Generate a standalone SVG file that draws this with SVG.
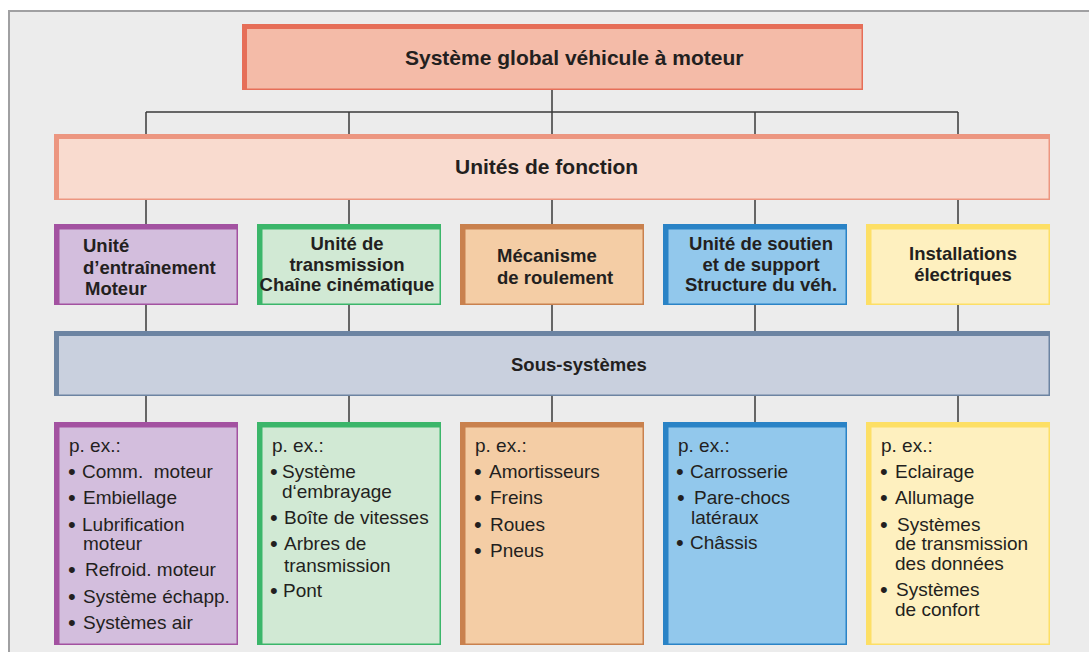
<svg xmlns="http://www.w3.org/2000/svg" width="1089" height="652" viewBox="0 0 1089 652">
<style>
.t{font-family:"Liberation Sans",Arial,sans-serif;fill:#231f20}
.h{font-weight:bold;font-size:21px}
.m{font-weight:bold;font-size:18.5px}
.s{font-size:19px}
.d{font-size:22px}
.c{text-anchor:middle}
.ln{stroke:#3a3a3a;stroke-width:1.5;fill:none}
.b0{fill:#e66e58}.f0{fill:#f4bba8}
.b1{fill:#ec9680}.f1{fill:#f9dbcf}
.b2{fill:#6c84a2}.f2{fill:#c9d0de}
.bp{fill:#a352a1}.fp{fill:#d3bedd}
.bg{fill:#3bb66a}.fg{fill:#d1e9d4}
.bo{fill:#c9814e}.fo{fill:#f4cda5}
.bb{fill:#2a83c6}.fb{fill:#92c8ec}
.by{fill:#fddf65}.fy{fill:#fef0bf}
</style>
<rect x="0" y="0" width="1089" height="652" fill="#ffffff"/>
<rect x="9" y="11" width="1090" height="660" fill="#ececec" stroke="#a0a0a2" stroke-width="2"/>

<g id="connectors">
<line class="ln" x1="552" y1="89" x2="552" y2="112"/>
<line class="ln" x1="146" y1="112" x2="958" y2="112"/>
<path class="ln" d="M146 112V134M349 112V134M552 112V134M755 112V134M958 112V134"/>
<path class="ln" d="M146 200V224M349 200V224M552 200V224M755 200V224M958 200V224"/>
<path class="ln" d="M146 305V331M349 305V331M552 305V331M755 305V331M958 305V331"/>
<path class="ln" d="M146 396V422M349 396V422M552 396V422M755 396V422M958 396V422"/>
</g>

<g id="global">
<rect class="b0" x="242" y="24" width="621" height="66"/>
<rect class="f0" x="247" y="29" width="614.5" height="59.5"/>
<text class="t h" x="405" y="65">Système global véhicule à moteur</text>
</g>

<g id="fonction">
<rect class="b1" x="54" y="134" width="996" height="66"/>
<rect class="f1" x="59" y="139" width="989.5" height="59.5"/>
<text class="t h" x="455" y="174">Unités de fonction</text>
</g>

<g id="u-entrainement">
<rect class="bp" x="54" y="224" width="184" height="81"/>
<rect class="fp" x="59.5" y="229.5" width="177" height="74"/>
<text class="t m" x="83" y="252">Unité</text>
<text class="t m" x="83" y="274">d’entraînement</text>
<text class="t m" x="85" y="295">Moteur</text>
</g>

<g id="u-transmission">
<rect class="bg" x="257" y="224" width="184" height="81"/>
<rect class="fg" x="262.5" y="229.5" width="177" height="74"/>
<text class="t m c" x="347" y="250">Unité de</text>
<text class="t m c" x="347" y="270.5">transmission</text>
<text class="t m c" x="347" y="291">Chaîne cinématique</text>
</g>

<g id="u-roulement">
<rect class="bo" x="460" y="224" width="184" height="81"/>
<rect class="fo" x="465.5" y="229.5" width="177" height="74"/>
<text class="t m" x="497" y="262">Mécanisme</text>
<text class="t m" x="497" y="284">de roulement</text>
</g>

<g id="u-soutien">
<rect class="bb" x="663" y="224" width="184" height="81"/>
<rect class="fb" x="668.5" y="229.5" width="177" height="74"/>
<text class="t m c" x="761" y="250">Unité de soutien</text>
<text class="t m c" x="761" y="270.5">et de support</text>
<text class="t m c" x="761" y="291">Structure du véh.</text>
</g>

<g id="u-electrique">
<rect class="by" x="866" y="224" width="184" height="81"/>
<rect class="fy" x="871.5" y="229.5" width="177" height="74"/>
<text class="t m c" x="963" y="260">Installations</text>
<text class="t m c" x="963" y="281">électriques</text>
</g>

<g id="sous-systemes">
<rect class="b2" x="54" y="331" width="996" height="65"/>
<rect class="f2" x="59" y="336" width="989.5" height="58.5"/>
<text class="t m" x="511" y="371">Sous-systèmes</text>
</g>

<g id="s-entrainement">
<rect class="bp" x="54" y="422" width="184" height="223"/>
<rect class="fp" x="59.5" y="427.5" width="177" height="216"/>
<text class="t s" x="69" y="452">p. ex.:</text>
<text class="t d" x="68" y="479">•</text><text class="t s" x="82" y="478" style="white-space:pre">Comm.  moteur</text>
<text class="t d" x="68" y="505">•</text><text class="t s" x="83" y="504">Embiellage</text>
<text class="t d" x="68" y="532">•</text><text class="t s" x="82" y="531">Lubrification</text>
<text class="t s" x="83" y="550">moteur</text>
<text class="t d" x="68" y="577">•</text><text class="t s" x="85" y="576">Refroid. moteur</text>
<text class="t d" x="68" y="604">•</text><text class="t s" x="83" y="603">Système échapp.</text>
<text class="t d" x="68" y="630">•</text><text class="t s" x="83" y="629">Systèmes air</text>
</g>

<g id="s-transmission">
<rect class="bg" x="257" y="422" width="184" height="223"/>
<rect class="fg" x="262.5" y="427.5" width="177" height="216"/>
<text class="t s" x="272" y="452">p. ex.:</text>
<text class="t d" x="270" y="479">•</text><text class="t s" x="282" y="478">Système</text>
<text class="t s" x="282" y="498">d‘embrayage</text>
<text class="t d" x="270" y="525">•</text><text class="t s" x="284" y="524">Boîte de vitesses</text>
<text class="t d" x="270" y="551">•</text><text class="t s" x="284" y="550">Arbres de</text>
<text class="t s" x="284" y="572">transmission</text>
<text class="t d" x="270" y="598">•</text><text class="t s" x="283" y="597">Pont</text>
</g>

<g id="s-roulement">
<rect class="bo" x="460" y="422" width="184" height="223"/>
<rect class="fo" x="465.5" y="427.5" width="177" height="216"/>
<text class="t s" x="475" y="452">p. ex.:</text>
<text class="t d" x="474" y="479">•</text><text class="t s" x="489" y="478">Amortisseurs</text>
<text class="t d" x="474" y="505">•</text><text class="t s" x="490" y="504">Freins</text>
<text class="t d" x="474" y="532">•</text><text class="t s" x="490" y="531">Roues</text>
<text class="t d" x="474" y="558">•</text><text class="t s" x="490" y="557">Pneus</text>
</g>

<g id="s-soutien">
<rect class="bb" x="663" y="422" width="184" height="223"/>
<rect class="fb" x="668.5" y="427.5" width="177" height="216"/>
<text class="t s" x="678" y="452">p. ex.:</text>
<text class="t d" x="676" y="479">•</text><text class="t s" x="690" y="478">Carrosserie</text>
<text class="t d" x="677" y="505">•</text><text class="t s" x="694" y="504">Pare-chocs</text>
<text class="t s" x="691" y="524">latéraux</text>
<text class="t d" x="676" y="550">•</text><text class="t s" x="690" y="549">Châssis</text>
</g>

<g id="s-electrique">
<rect class="by" x="866" y="422" width="184" height="223"/>
<rect class="fy" x="871.5" y="427.5" width="177" height="216"/>
<text class="t s" x="881" y="452">p. ex.:</text>
<text class="t d" x="880" y="479">•</text><text class="t s" x="895" y="478">Eclairage</text>
<text class="t d" x="880" y="505">•</text><text class="t s" x="895" y="504">Allumage</text>
<text class="t d" x="880" y="532">•</text><text class="t s" x="897" y="531">Systèmes</text>
<text class="t s" x="895" y="550">de transmission</text>
<text class="t s" x="895" y="570">des données</text>
<text class="t d" x="880" y="597">•</text><text class="t s" x="896" y="596">Systèmes</text>
<text class="t s" x="895" y="616">de confort</text>
</g>
</svg>
